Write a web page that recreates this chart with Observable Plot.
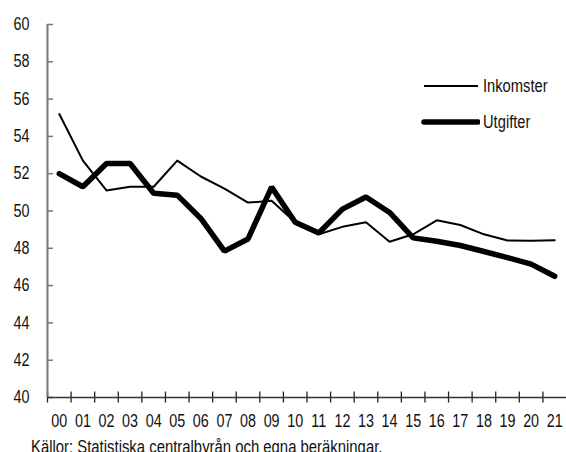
<!DOCTYPE html>
<html>
<head>
<meta charset="utf-8">
<script src="https://cdn.jsdelivr.net/npm/d3@7"></script>
<script src="https://cdn.jsdelivr.net/npm/@observablehq/plot@0.6"></script>
<style>
  html, body { margin: 0; padding: 0; background: #fff; }
  body { width: 566px; height: 452px; overflow: hidden; position: relative;
         font-family: "Liberation Sans", Arial, sans-serif; }
  #chart { position: absolute; left: 0; top: 0; }
  #caption { position: absolute; left: 31px; top: 437px; font-size: 17.5px; line-height: 20px; color: #111; white-space: nowrap;
             transform: scaleX(0.85); transform-origin: 0 0; }
  #legend { position: absolute; left: 420px; top: 74px; font-size: 17.5px; color: #111; }
  .lg { display: flex; align-items: center; height: 24px; margin-bottom: 12px; }
  .lg svg { display: block; margin-right: 3px; }
  .lg span { display: inline-block; transform: scaleX(0.84); transform-origin: 0 50%; }
</style>
</head>
<body>
<div id="chart"></div>
<div id="legend"></div>
<div id="caption">Källor: Statistiska centralbyrån och egna beräkningar.</div>
<script>
const years = ["00","01","02","03","04","05","06","07","08","09","10","11","12","13","14","15","16","17","18","19","20","21"];
const inkomster = [55.2, 52.7, 51.1, 51.3, 51.3, 52.7, 51.85, 51.2, 50.45, 50.55, 49.4, 48.75, 49.15, 49.4, 48.35, 48.75, 49.5, 49.25, 48.75, 48.42, 48.4, 48.43];
const utgifter  = [52.0, 51.3, 52.55, 52.55, 50.95, 50.85, 49.6, 47.85, 48.5, 51.28, 49.4, 48.82, 50.1, 50.75, 49.92, 48.56, 48.38, 48.15, 47.83, 47.5, 47.15, 46.5];
const yTicks = [40, 42, 44, 46, 48, 50, 52, 54, 56, 58, 60];
const seriesNames = ["Inkomster", "Utgifter"];
const seriesWidths = [2, 5.5];

const rows = [];
years.forEach((y, i) => {
  rows.push({series: seriesNames[0], i: i + 0.5, value: inkomster[i]});
  rows.push({series: seriesNames[1], i: i + 0.5, value: utgifter[i]});
});
const tickPos = d3.range(years.length);
const labelPos = d3.range(years.length).map(i => i + 0.5);

const font = '"Liberation Sans", Arial, sans-serif';

const chart = Plot.plot({
  width: 566,
  height: 452,
  marginLeft: 47,
  marginRight: 0,
  marginTop: 24,
  marginBottom: 55,
  style: {fontFamily: font, fontSize: "17.5px", color: "#111", background: "#fff"},
  x: {type: "linear", domain: [0, years.length]},
  y: {domain: [40, 60]},
  marks: [
    Plot.axisY({ticks: yTicks, tickSize: -6, tickPadding: 24, label: null, stroke: "#777", strokeWidth: 1.5}),
    Plot.axisX({ticks: tickPos, tickSize: 11, dy: -5.5, tickFormat: () => "", label: null, stroke: "#222", strokeWidth: 1.3}),
    Plot.axisX({ticks: labelPos, tickSize: 0, tickPadding: 17, tickFormat: d => years[Math.floor(d)], label: null}),
    Plot.ruleX([0], {stroke: "#777", strokeWidth: 2}),
    Plot.ruleY([40], {stroke: "#333", strokeWidth: 1.5}),
    Plot.line(rows.filter(d => d.series === seriesNames[0]), {x: "i", y: "value", stroke: "#000", strokeWidth: seriesWidths[0]}),
    Plot.line(rows.filter(d => d.series === seriesNames[1]), {x: "i", y: "value", stroke: "#000", strokeWidth: seriesWidths[1], strokeLinejoin: "miter", strokeLinecap: "round"})
  ]
});
// condense text horizontally (narrow typeface look)
chart.querySelectorAll("text").forEach(t => {
  const tr = t.getAttribute("transform") || "";
  t.setAttribute("transform", tr + " scale(0.82,1)");
});
document.getElementById("chart").appendChild(chart);

const legend = document.getElementById("legend");
seriesNames.forEach((name, k) => {
  const row = document.createElement("div");
  row.className = "lg";
  row.innerHTML = `<svg width="60" height="12"><line x1="4" x2="58" y1="6" y2="6" stroke="#000" stroke-width="${seriesWidths[k]}" stroke-linecap="${k ? "round" : "butt"}"/></svg><span>${name}</span>`;
  legend.appendChild(row);
});
</script>
</body>
</html>
